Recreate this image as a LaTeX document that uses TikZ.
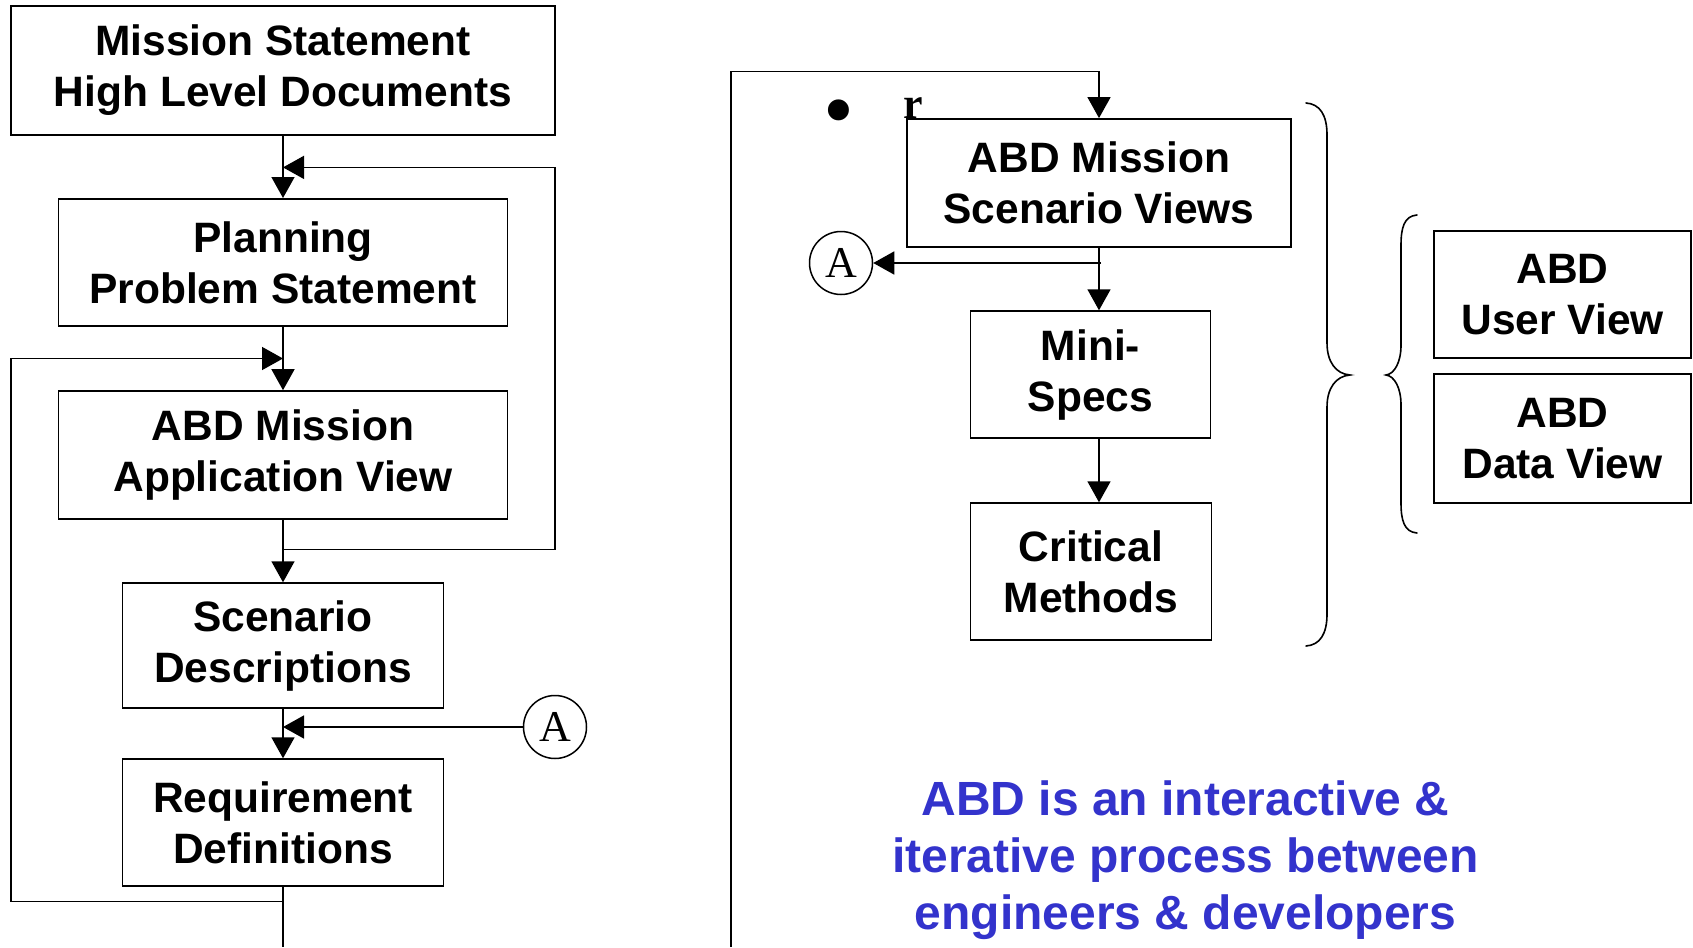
\documentclass[tikz,border=0pt]{standalone}
\usepackage{fontspec}
\setmainfont{Liberation Sans}
\newfontfamily\serifface{Liberation Serif}
\usetikzlibrary{arrows.meta}
\definecolor{abdblue}{RGB}{51,51,204}
\tikzset{
  stepbox/.style={draw, line width=1.8pt, fill=white, inner sep=0pt, align=center,
    font=\bfseries\fontsize{42.5}{51}\selectfont},
  conn/.style={line width=1.5pt},
  arr/.style={conn, -{Triangle[length=21pt,width=23pt]}},
  connector/.style={draw, circle, line width=1.5pt, minimum size=63pt, inner sep=0pt,
    font=\serifface\fontsize{44}{44}\selectfont},
  bracepath/.style={line width=1.6pt, line cap=round},
  note/.style={align=center, text=abdblue, font=\bfseries\fontsize{48}{57}\selectfont}
}
\begin{document}
\begin{tikzpicture}[x=1pt,y=-1pt]
\useasboundingbox (0,0) rectangle (1693,947);

% left column
\node[stepbox, minimum width=544pt, minimum height=129pt] (mission) at (283,70.5) {Mission Statement\\High Level Documents};
\node[stepbox, minimum width=449pt, minimum height=127pt] (plan) at (283,262.4) {Planning\\Problem Statement};
\node[stepbox, minimum width=449pt, minimum height=128pt] (app) at (283,455.1) {ABD Mission\\Application View};
\node[stepbox, minimum width=321pt, minimum height=125pt] (scen) at (283,645.7) {Scenario\\Descriptions};
\node[stepbox, minimum width=321pt, minimum height=127pt] (req) at (283,822.7) {Requirement\\Definitions};
\node[connector] (cA1) at (555,727) {A};

\coordinate (j1) at (283,549.6);
\coordinate (r1) at (555,549.6);
\coordinate (r2) at (555,167.4);
\coordinate (j2) at (283,167.4);
\coordinate (l1) at (283,901.5);
\coordinate (l2) at (10.8,901.5);
\coordinate (l3) at (10.8,358.5);
\coordinate (l4) at (283,358.5);
\coordinate (j3) at (283,727);
\coordinate (bot) at (283,947);

\draw[arr] (mission) -- (plan);
\draw[arr] (plan) -- (app);
\draw[arr] (app) -- (scen);
\draw[arr] (scen) -- (req);
\draw[conn] (req.south) -- (bot);
\draw[arr] (j1) -- (r1) -- (r2) -- (j2);
\draw[arr] (l1) -- (l2) -- (l3) -- (l4);
\draw[arr] (cA1.west) -- (j3);

% right column
\node[inner sep=0pt, font=\serifface\fontsize{88}{88}\selectfont] (bul) at (839,120) {•};
\node[anchor=base, font=\serifface\bfseries\fontsize{44}{44}\selectfont] (rr) at (913,119) {r};
\node[stepbox, minimum width=384pt, minimum height=128pt] (sv) at (1099,183) {ABD Mission\\Scenario Views};
\node[stepbox, minimum width=240pt, minimum height=127pt] (ms) at (1090.5,374.7) {Mini-\\Specs};
\node[stepbox, minimum width=241pt, minimum height=137pt] (cm) at (1091,571.7) {Critical\\Methods};
\node[connector] (cA2) at (841,263) {A};
\node[stepbox, minimum width=257pt, minimum height=127.6pt] (uv) at (1562.5,294.5) {ABD\\User View};
\node[stepbox, minimum width=257pt, minimum height=129pt] (dv) at (1562.5,438.5) {ABD\\Data View};

\coordinate (b1) at (731,947);
\coordinate (b2) at (731,71.3);
\coordinate (b3) at (1099,71.3);
\coordinate (j4) at (1101,263);

\draw[arr] (b1) -- (b2) -- (b3) -- (sv.north);
\draw[arr] (j4) -- (cA2.east);
\draw[arr] (sv.south) -- (sv.south |- ms.north);
\draw[arr] (ms.south -| sv.south) -- (cm.north -| sv.south);

% braces
\draw[bracepath] (1306,103) .. controls (1320,104) and (1327,115) .. (1327,135) -- (1327,343)
  .. controls (1327,362) and (1336,374) .. (1350,375)
  .. controls (1336,376) and (1327,388) .. (1327,407) -- (1327,614)
  .. controls (1327,634) and (1320,645) .. (1306,646);
\draw[bracepath] (1417,215) .. controls (1404,216) and (1401,228) .. (1401,245) -- (1401,345)
  .. controls (1401,363) and (1394,374) .. (1386,375)
  .. controls (1394,376) and (1401,387) .. (1401,405) -- (1401,503)
  .. controls (1401,520) and (1404,532) .. (1417,533);

\node[note] (txt) at (1185.5,860) {ABD is an interactive \&\\iterative process between\\engineers \& developers};
\end{tikzpicture}
\end{document}
